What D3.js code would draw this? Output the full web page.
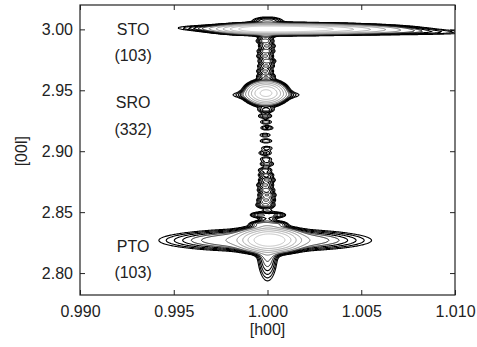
<!DOCTYPE html>
<html>
<head>
<meta charset="utf-8">
<script src="https://cdn.jsdelivr.net/npm/d3@7/dist/d3.min.js"></script>
<style>
  body { margin: 0; background: #fff; }
  text { font-family: "Liberation Sans", Arial, sans-serif; fill: #222; }
</style>
</head>
<body>
<svg id="chart" width="477" height="347"></svg>
<script>
// axis ranges and ticks
const hDomain = [0.990, 1.010];
const lDomain = [2.782, 3.020];
const hTicks = [0.990, 0.995, 1.000, 1.005, 1.010];
const lTicks = [2.80, 2.85, 2.90, 2.95, 3.00];

// reflection components (centre, half widths, height)
const peakNames = ['STO core', 'STO streak', 'STO cap', 'SRO', 'SRO wings', 'PTO', 'PTO wings', 'PTO outer wings', 'PTO tail'];
const peakH     = [0.99992, 0.99992, 1.00000, 0.99992, 0.99992, 1.00011, 0.99987, 0.99990, 1.00000];
const peakL     = [3.0003, 3.0000, 3.0072, 2.9478, 2.9462, 2.8271, 2.8271, 2.8265, 2.8230];
const peakWL    = [0.00107, 0.00230, 0.00053, 0.00045, 0.00117, 0.00068, 0.00270, 0.00330, 0.00032]; // h width, low side
const peakWR    = [0.00267, 0.00520, 0.00053, 0.00045, 0.00117, 0.00068, 0.00270, 0.00330, 0.00032]; // h width, high side
const peakWl    = [0.0018, 0.00170, 0.0020, 0.0041, 0.0021, 0.0041, 0.0049, 0.0042, 0.0164];
const peakTilt  = [0, -0.24, 0, 0, 0, 0, 0, 0, 0];
const peakAmp   = [150, 8, 3, 80, 3, 120, 6, 1.5, 5];

// crystal truncation rod, broken into the streaks seen along h = 1
const rodL   = [2.9946, 2.9905, 2.9864, 2.9822, 2.9781, 2.9740, 2.9699, 2.9658, 2.9617,
                2.9338, 2.9289, 2.9240, 2.9191, 2.9133, 2.9084, 2.9026, 2.8985, 2.8936,
                2.8895, 2.8846, 2.8805, 2.8764, 2.8723, 2.8682, 2.8641, 2.8600, 2.8559,
                2.8477, 2.8477, 2.8403, 2.8403];
const rodH   = [0.99992, 0.99987, 0.99997, 0.99992, 0.99987, 0.99997, 0.99992, 0.99987, 0.99992,
                0.99992, 0.99987, 0.99992, 0.99997, 0.99987, 0.99992, 0.99997, 0.99987, 0.99992,
                0.99997, 0.99987, 0.99992, 0.99997, 0.99987, 0.99992, 0.99997, 0.99992, 0.99987,
                0.99949, 1.00056, 0.99949, 1.00061];
const rodAmp = [3, 3.5, 3, 3.5, 3, 3.5, 3, 3, 3.5,
                2.5, 2, 1.6, 1.8, 1.5, 1.7, 1.5, 1.8, 1.6,
                2, 2, 2.5, 3, 3, 3.2, 3.5, 3.5, 3.5,
                2.5, 2.5, 2.5, 2.5];
const rodWh = 0.00030, rodWl = 0.0015;

// contour levels and their grey
const levels      = [1, 1.3, 1.7, 2.2, 2.8, 3.6, 6, 11, 20, 36, 65];
const levelColors = ['#000', '#000', '#000', '#000', '#111', '#222', '#666', '#888', '#999', '#aaa', '#bbb'];
const levelWidths = [1.1, 1.1, 1.1, 1.1, 1, 1, 0.9, 0.9, 0.9, 0.9, 0.9];

const labelText = [['STO', '(103)'], ['SRO', '(332)'], ['PTO', '(103)']];
const labelL    = [[3.000, 2.979], [2.940, 2.918], [2.822, 2.801]];
const labelH    = 0.99283;

const margin = { top: 5, right: 22, bottom: 52, left: 80 };
const width = 477, height = 347;
const svg = d3.select('#chart');

const x = d3.scaleLinear().domain(hDomain).range([margin.left, width - margin.right]);
const y = d3.scaleLinear().domain(lDomain).range([height - margin.bottom, margin.top]);

// intensity grid
const nx = 375, ny = 290;
const values = new Float64Array(nx * ny);
const hAt = i => hDomain[0] + (i + 0.5) / nx * (hDomain[1] - hDomain[0]);
const lAt = j => lDomain[1] - (j + 0.5) / ny * (lDomain[1] - lDomain[0]);

for (let j = 0; j < ny; j++) {
    const l = lAt(j);
    for (let i = 0; i < nx; i++) {
        const h = hAt(i);
        let v = 0;
        for (let k = 0; k < peakAmp.length; k++) {
            const dh = h - peakH[k];
            const dl = l - peakL[k] - peakTilt[k] * dh;
            const wh = dh < 0 ? peakWL[k] : peakWR[k];
            v += peakAmp[k] * Math.exp(-0.5 * ((dh / wh) ** 2 + (dl / peakWl[k]) ** 2));
        }
        for (let k = 0; k < rodL.length; k++) {
            const dl = l - rodL[k];
            if (Math.abs(dl) > 6 * rodWl) continue;
            const dh = h - rodH[k];
            v += rodAmp[k] * Math.exp(-0.5 * ((dh / rodWh) ** 2 + (dl / rodWl) ** 2));
        }
        values[j * nx + i] = v;
    }
}

const contours = d3.contours().size([nx, ny]).thresholds(levels)(values);

const project = d3.geoTransform({
    point(px, py) {
        this.stream.point(
            x(hDomain[0] + px / nx * (hDomain[1] - hDomain[0])),
            y(lDomain[1] - py / ny * (lDomain[1] - lDomain[0]))
        );
    }
});
const path = d3.geoPath(project);

svg.append('clipPath').attr('id', 'plot-clip')
    .append('rect')
    .attr('x', margin.left).attr('y', margin.top)
    .attr('width', width - margin.left - margin.right)
    .attr('height', height - margin.top - margin.bottom);

svg.append('g')
    .attr('clip-path', 'url(#plot-clip)')
    .selectAll('path')
    .data(contours)
    .join('path')
    .attr('d', path)
    .attr('fill', 'none')
    .attr('stroke', (d, i) => levelColors[i])
    .attr('stroke-width', (d, i) => levelWidths[i]);

// axes, ticks pointing inward on all four sides
const fmtH = d3.format('.3f');
const fmtL = d3.format('.2f');

svg.append('g')
    .attr('transform', `translate(0, ${height - margin.bottom})`)
    .call(d3.axisBottom(x).tickValues(hTicks).tickFormat(fmtH).tickSizeInner(-5).tickSizeOuter(0).tickPadding(11));
svg.append('g')
    .attr('transform', `translate(0, ${margin.top})`)
    .call(d3.axisTop(x).tickValues(hTicks).tickFormat('').tickSizeInner(-5).tickSizeOuter(0));
svg.append('g')
    .attr('transform', `translate(${margin.left}, 0)`)
    .call(d3.axisLeft(y).tickValues(lTicks).tickFormat(fmtL).tickSizeInner(-5).tickSizeOuter(0).tickPadding(7));
svg.append('g')
    .attr('transform', `translate(${width - margin.right}, 0)`)
    .call(d3.axisRight(y).tickValues(lTicks).tickFormat('').tickSizeInner(-5).tickSizeOuter(0));

svg.selectAll('.domain').remove();
svg.selectAll('.tick line').attr('stroke', '#222');
svg.selectAll('.tick text')
    .attr('font-size', 16)
    .attr('font-family', '"Liberation Sans", Arial, sans-serif')
    .attr('fill', '#222');

svg.append('rect')
    .attr('x', margin.left).attr('y', margin.top)
    .attr('width', width - margin.left - margin.right)
    .attr('height', height - margin.top - margin.bottom)
    .attr('fill', 'none')
    .attr('stroke', '#222')
    .attr('stroke-width', 1.2);

// peak labels
labelText.forEach((pair, i) => {
    pair.forEach((t, k) => {
        svg.append('text')
            .attr('x', x(labelH))
            .attr('y', y(labelL[i][k]))
            .attr('dy', '0.36em')
            .attr('text-anchor', 'middle')
            .attr('font-size', 16)
            .text(t);
    });
});

// axis titles
svg.append('text')
    .attr('x', x(1.000))
    .attr('y', 335)
    .attr('text-anchor', 'middle')
    .attr('font-size', 16)
    .text('[h00]');

svg.append('text')
    .attr('transform', `translate(27, ${y(2.90)}) rotate(-90)`)
    .attr('text-anchor', 'middle')
    .attr('font-size', 16)
    .text('[00l]');
</script>
</body>
</html>
